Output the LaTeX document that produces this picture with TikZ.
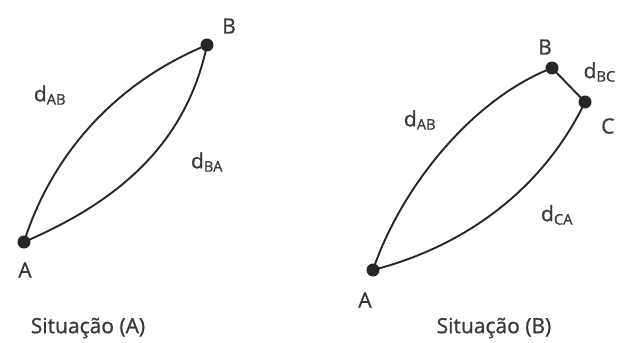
\documentclass[tikz,border=0pt]{standalone}
\usepackage{fontspec}
\setmainfont{Open Sans}
\newfontfamily\lblfont{Open Sans}[FakeBold=0.9]
\begin{document}
\begin{tikzpicture}[x=1pt,y=-1pt,
  dot/.style={circle,fill=black!85,inner sep=0pt,minimum size=13pt},
  lbl/.style={text=black!78,font=\fontsize{21}{24}\lblfont,inner sep=0pt},
  path/.style={draw=black!85,line width=1.9pt}]
\useasboundingbox (0,0) rectangle (617,342);
% Situation A
\node[dot] (A1) at (24,242) {};
\node[dot] (B1) at (207,45) {};
\draw[path] (A1.center) .. controls (50,160) and (110,85) .. (B1.center);
\draw[path] (A1.center) .. controls (110,205) and (185,150) .. (B1.center);
\node[lbl] (la1) at (25,270) {A};
\node[lbl] (lb1) at (229,26) {B};
\node[lbl] (dab1) at (50,95) {d\textsubscript{AB}};
\node[lbl] (dba1) at (207,162) {d\textsubscript{BA}};
\node[lbl] (s1) at (88,328) {Situação (A)};
% Situation B
\node[dot] (A2) at (373,270) {};
\node[dot] (B2) at (552,68) {};
\node[dot] (C2) at (585,102) {};
\draw[path] (A2.center) .. controls (400,190) and (470,100) .. (B2.center);
\draw[path] (B2.center) -- (C2.center);
\draw[path] (C2.center) .. controls (545,185) and (470,245) .. (A2.center);
\node[lbl] (la2) at (365,300) {A};
\node[lbl] (lb2) at (545,47) {B};
\node[lbl,anchor=west] (lc2) at (601,126) {C};
\node[lbl,anchor=east] (dbc2) at (616,72) {d\textsubscript{BC}};
\node[lbl] (dab2) at (420,120) {d\textsubscript{AB}};
\node[lbl] (dca2) at (557,215) {d\textsubscript{CA}};
\node[lbl] (s2) at (494,328) {Situação (B)};
\end{tikzpicture}
\end{document}
